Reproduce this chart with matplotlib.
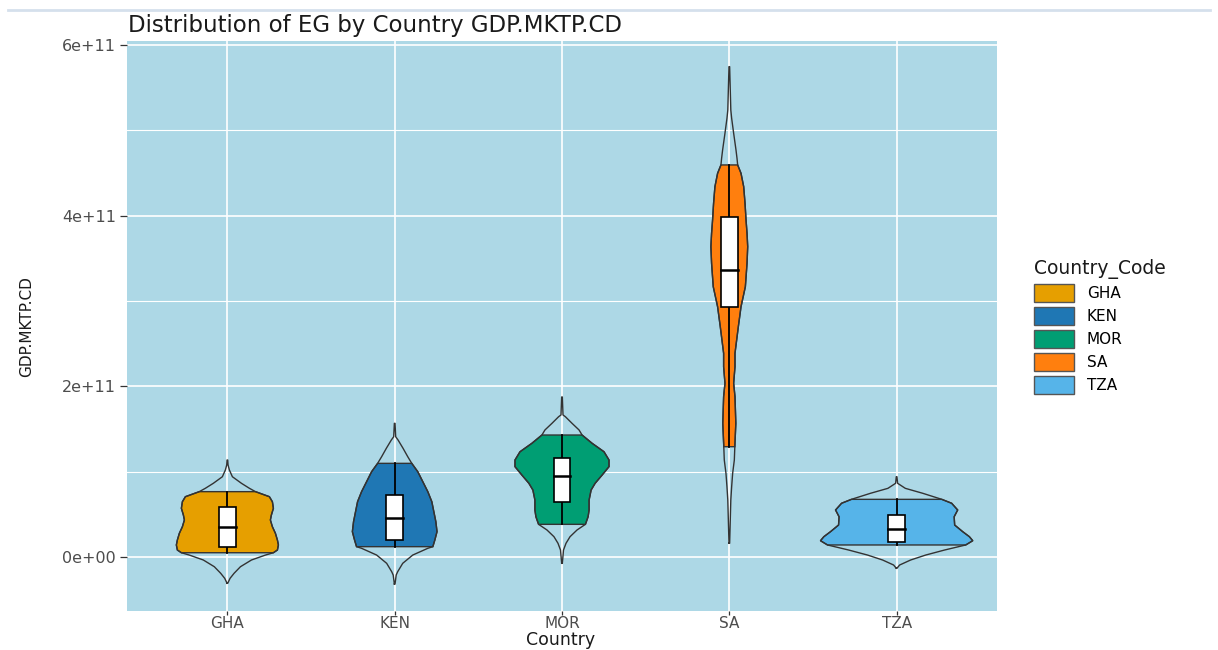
import numpy as np
import matplotlib.pyplot as plt
from matplotlib.patches import Patch, Polygon
from matplotlib.lines import Line2D
from matplotlib.ticker import FixedLocator, FuncFormatter

plt.rcParams['font.family'] = ['DejaVu Sans']

countries = ["GHA", "KEN", "MOR", "SA", "TZA"]
colors = ["#E69F00", "#1F77B4", "#009E73", "#FF7F0E", "#56B4E9"]

# density profiles: GDP (units of 1e11 USD) and violin half width (x units)
gha_gdp = [-0.308, -0.250, -0.191, -0.114, -0.035, 0.023, 0.050, 0.082, 0.141, 0.199,
           0.278, 0.355, 0.434, 0.492, 0.571, 0.648, 0.707, 0.766, 0.805, 0.864,
           0.941, 1.020, 1.079, 1.137]
gha_hw = [0.002, 0.016, 0.040, 0.078, 0.144, 0.228, 0.275, 0.299, 0.305, 0.299,
          0.287, 0.269, 0.257, 0.263, 0.275, 0.269, 0.251, 0.168, 0.132, 0.084,
          0.030, 0.012, 0.004, 0.002]

ken_gdp = [-0.317, -0.211, -0.172, -0.074, 0.023, 0.102, 0.121, 0.199, 0.297, 0.414,
           0.531, 0.648, 0.766, 0.883, 1.000, 1.098, 1.176, 1.274, 1.372, 1.410, 1.567]
ken_hw = [0.002, 0.009, 0.018, 0.048, 0.108, 0.198, 0.228, 0.240, 0.253, 0.246,
          0.234, 0.222, 0.198, 0.168, 0.138, 0.102, 0.078, 0.050, 0.020, 0.006, 0.002]

mor_gdp = [-0.074, 0.082, 0.161, 0.238, 0.317, 0.383, 0.472, 0.551, 0.668, 0.785,
           0.864, 0.961, 1.059, 1.137, 1.234, 1.333, 1.430, 1.489, 1.567, 1.645,
           1.665, 1.876]
mor_hw = [0.002, 0.009, 0.024, 0.048, 0.090, 0.140, 0.156, 0.162, 0.162, 0.174,
          0.198, 0.240, 0.281, 0.281, 0.251, 0.180, 0.120, 0.102, 0.060, 0.020,
          0.006, 0.002]

sa_gdp = [0.161, 0.668, 0.824, 0.981, 1.137, 1.293, 1.567, 1.879, 2.036, 2.231,
          2.388, 2.544, 2.700, 2.934, 3.169, 3.443, 3.638, 3.795, 3.951, 4.147,
          4.341, 4.498, 4.596, 4.674, 4.771, 4.967, 5.143, 5.240, 5.748]
sa_hw = [0.002, 0.009, 0.014, 0.020, 0.030, 0.033, 0.039, 0.034, 0.026, 0.034,
         0.034, 0.044, 0.054, 0.070, 0.096, 0.106, 0.110, 0.106, 0.100, 0.094,
         0.086, 0.070, 0.050, 0.046, 0.040, 0.026, 0.014, 0.009, 0.002]

tza_gdp = [-0.132, -0.094, -0.035, 0.023, 0.082, 0.141, 0.191, 0.238, 0.297, 0.375,
           0.472, 0.551, 0.630, 0.676, 0.747, 0.805, 0.864, 0.941]
tza_hw = [0.002, 0.018, 0.084, 0.174, 0.287, 0.413, 0.455, 0.435, 0.395, 0.347,
          0.344, 0.365, 0.329, 0.270, 0.156, 0.052, 0.006, 0.002]

# observed range and quartiles (1e11 USD)
data_min = [0.050, 0.121, 0.383, 1.293, 0.141]
data_max = [0.766, 1.098, 1.430, 4.596, 0.676]
q1 = [0.120, 0.199, 0.641, 2.934, 0.179]
median = [0.355, 0.461, 0.953, 3.365, 0.328]
q3 = [0.590, 0.727, 1.164, 3.990, 0.492]

profiles = [(gha_gdp, gha_hw), (ken_gdp, ken_hw), (mor_gdp, mor_hw),
            (sa_gdp, sa_hw), (tza_gdp, tza_hw)]

SCALE = 1e11
outline = "#333333"

fig = plt.figure(figsize=(12.18, 6.5), dpi=100)
ax = fig.add_axes([127 / 1218, 1 - 611 / 650, 870 / 1218, 570 / 650])
ax.set_facecolor("#ADD8E6")
for s in ax.spines.values():
    s.set_visible(False)

# grid
for v in [1, 3, 5]:
    ax.axhline(v * SCALE, color="white", lw=0.8, zorder=0)
for v in [0, 2, 4, 6]:
    ax.axhline(v * SCALE, color="white", lw=1.2, zorder=0)
for i in range(len(countries)):
    ax.axvline(i + 1, color="white", lw=1.2, zorder=0)

for i, (gdp, hw) in enumerate(profiles):
    x0 = i + 1
    gdp = np.array(gdp) * SCALE
    hw = np.array(hw)
    lo, hi = data_min[i] * SCALE, data_max[i] * SCALE

    # filled violin cut at the data range
    keep = (gdp > lo) & (gdp < hi)
    g_in = np.concatenate([[lo], gdp[keep], [hi]])
    w_in = np.concatenate([[np.interp(lo, gdp, hw)], hw[keep], [np.interp(hi, gdp, hw)]])
    xs = np.concatenate([x0 - w_in, (x0 + w_in)[::-1]])
    ys = np.concatenate([g_in, g_in[::-1]])
    ax.add_patch(Polygon(np.column_stack([xs, ys]), closed=True, facecolor=colors[i],
                         edgecolor=outline, lw=1.0, zorder=2))

    # full density outline with tails
    xs = np.concatenate([x0 - hw, (x0 + hw)[::-1], [x0 - hw[0]]])
    ys = np.concatenate([gdp, gdp[::-1], [gdp[0]]])
    ax.plot(xs, ys, color=outline, lw=1.0, zorder=3)

    # whisker and box
    ax.plot([x0, x0], [lo, hi], color="black", lw=1.3, zorder=4)
    bw = 0.05
    ax.add_patch(plt.Rectangle((x0 - bw, q1[i] * SCALE), 2 * bw, (q3[i] - q1[i]) * SCALE,
                               facecolor="white", edgecolor="black", lw=1.2, zorder=5))
    ax.plot([x0 - bw, x0 + bw], [median[i] * SCALE] * 2, color="black", lw=1.8, zorder=6)

ax.set_xlim(0.4, 5.6)
ax.set_ylim(-0.633 * SCALE, 6.049 * SCALE)
ax.set_xticks(range(1, len(countries) + 1))
ax.set_xticklabels(countries)
ax.yaxis.set_major_locator(FixedLocator([0, 2e11, 4e11, 6e11]))
ax.yaxis.set_major_formatter(FuncFormatter(lambda v, p: f"{v:.0e}"))
ax.tick_params(axis="x", length=3, width=0.9, color=outline, pad=0.3,
               labelsize=11, labelcolor="#4D4D4D")
ax.tick_params(axis="y", length=4.8, width=0.9, color=outline, pad=3,
               labelsize=11.5, labelcolor="#4D4D4D")

fig.text(128 / 1218, 1 - 32 / 650, "Distribution of EG by Country GDP.MKTP.CD",
         fontsize=16.5, color="#1A1A1A", ha="left", va="baseline")
fig.text(27 / 1218, 1 - 327 / 650, "GDP.MKTP.CD", rotation=90, fontsize=11,
         color="#1A1A1A", ha="center", va="center")
fig.text(561 / 1218, 1 / 650, "Country", fontsize=12.5, color="#1A1A1A",
         ha="center", va="bottom")

# window border line at the top
fig.add_artist(Line2D([8 / 1218, 1210 / 1218], [1 - 10 / 650] * 2,
                      color="#D5E0EC", lw=2))

handles = [Patch(facecolor=c, edgecolor="#555555", lw=1.0, label=n)
           for c, n in zip(colors, countries)]
leg = fig.legend(handles=handles, title="Country_Code", loc="upper left",
                 bbox_to_anchor=(1034 / 1218, 1 - 259 / 650), frameon=False,
                 fontsize=11, title_fontsize=13.5, handlelength=2.6,
                 handleheight=1.45, labelspacing=0.32, handletextpad=0.85,
                 borderpad=0, borderaxespad=0)
leg._legend_box.align = "left"
leg.get_title().set_color("#1A1A1A")

fig.savefig("out.png", dpi=100)
